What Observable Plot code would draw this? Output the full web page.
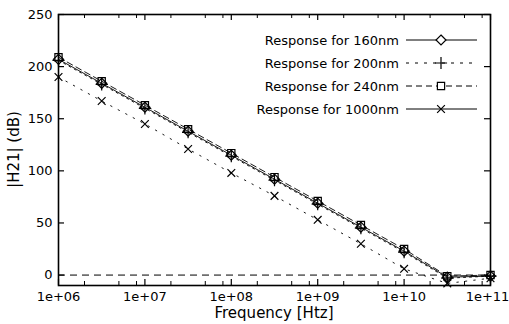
<!DOCTYPE html>
<html><head><meta charset="utf-8">
<script src="https://cdn.jsdelivr.net/npm/d3@7"></script>
<script src="https://cdn.jsdelivr.net/npm/@observablehq/plot@0.6"></script>
<style>body{margin:0;background:#fff}#chart{position:relative;width:509px;height:324px}</style>
</head><body><div id="chart"></div>
<script>
// ---- data ----
const freq = [1e6, 3.162e6, 1e7, 3.162e7, 1e8, 3.162e8, 1e9, 3.162e9, 1e10, 3.162e10, 1e11];
const r160 = [207, 184, 161, 138, 115, 92, 69, 46, 23, -2, -1];
const r200 = [206, 183, 160, 137, 114, 91, 68, 45, 22, -3, -1];
const r240 = [209, 186, 163, 140, 117, 94, 71, 48, 25, -1, 0];
const r1000 = [190, 167, 145, 121, 98, 76, 53, 30, 6, -8, -3];
const seriesNames = ["Response for 160nm", "Response for 200nm", "Response for 240nm", "Response for 1000nm"];
const xTicks = [1e6, 1e7, 1e8, 1e9, 1e10, 1e11];
const xTickLabels = ["1e+06", "1e+07", "1e+08", "1e+09", "1e+10", "1e+11"];
const yTicks = [0, 50, 100, 150, 200, 250];
const zeroLine = [0];
const xTitle = "Frequency [Htz]";
const yTitle = "|H21| (dB)";

// ---- build ----
const seriesVals = [r160, r200, r240, r1000];
const styles = [
  {dash: null, symbol: "diamond2", d3sym: d3.symbolDiamond2, r: 4.5},
  {dash: "2,4", symbol: "plus", d3sym: d3.symbolPlus, r: 4},
  {dash: "6,4", symbol: "square2", d3sym: d3.symbolSquare2, r: 4.6},
  {dash: "1.5,7", symbol: "times", d3sym: d3.symbolX, r: 3.6}
];
const legendDash = [null, "3,6", "6,4", null];
const rows = seriesVals.map((vals, i) => freq.map((f, j) => ({f, v: vals[j], name: seriesNames[i]})));
const minor = xTicks.slice(0, -1).flatMap(d => [2, 5, 8].map(k => d * k));
const fmt = d => xTickLabels[xTicks.indexOf(d)];

const W = 509, H = 324, mL = 58, mR = 19, mT = 14, mB = 39;
const pw = W - mL - mR, ph = H - mT - mB;
const font = "DejaVu Sans";

const marks = [
  Plot.ruleY(zeroLine, {stroke: "black", strokeWidth: 1, strokeDasharray: "7,5"})
];
rows.forEach((data, i) => {
  const s = styles[i];
  marks.push(Plot.line(data, {x: "f", y: "v", stroke: "black", strokeWidth: 0.9, strokeDasharray: s.dash, clip: true}));
});
rows.forEach((data, i) => {
  const s = styles[i];
  marks.push(Plot.dot(data, {x: "f", y: "v", symbol: s.symbol, r: s.r, stroke: "black", fill: "none", strokeWidth: 1.2}));
});
marks.push(
  Plot.tickX(xTicks, {stroke: "black", strokeWidth: 1.2, insetTop: ph - 6}),
  Plot.tickX(xTicks, {stroke: "black", strokeWidth: 1.2, insetBottom: ph - 6}),
  Plot.tickX(minor, {stroke: "black", strokeWidth: 1, insetTop: ph - 4}),
  Plot.tickX(minor, {stroke: "black", strokeWidth: 1, insetBottom: ph - 4}),
  Plot.tickY(yTicks, {stroke: "black", strokeWidth: 1.2, insetRight: pw - 6}),
  Plot.tickY(yTicks, {stroke: "black", strokeWidth: 1.2, insetLeft: pw - 6}),
  Plot.frame({stroke: "black", strokeWidth: 1.6}),
  Plot.axisX(xTicks.slice(0, -1), {tickSize: 0, tickPadding: 6, tickFormat: fmt, label: null}),
  Plot.axisX(xTicks.slice(-1), {tickSize: 0, tickPadding: 6, tickFormat: fmt, label: null, dx: -3}),
  Plot.axisY(yTicks, {tickSize: 0, tickPadding: 6, label: null})
);

const plot = Plot.plot({
  width: W, height: H,
  marginLeft: mL, marginRight: mR, marginTop: mT, marginBottom: mB,
  style: {fontFamily: font, fontSize: "13px", background: "white", color: "black"},
  x: {type: "log", domain: [1e6, 1e11]},
  y: {domain: [-10, 250]},
  marks
});
document.getElementById("chart").appendChild(plot);

// ---- titles and legend ----
const svg = d3.select(plot);
svg.append("text")
  .attr("x", mL + pw / 2).attr("y", 318)
  .attr("text-anchor", "middle")
  .attr("font-family", font).attr("font-size", 15).attr("fill", "black")
  .text(xTitle);
svg.append("text")
  .attr("transform", `translate(19,${mT + ph / 2}) rotate(-90)`)
  .attr("text-anchor", "middle")
  .attr("font-family", font).attr("font-size", 15).attr("fill", "black")
  .text(yTitle);

const lg = svg.append("g").attr("font-family", font).attr("font-size", 13);
const rowY = [40, 63, 86, 109];
seriesNames.forEach((name, i) => {
  const y = rowY[i];
  lg.append("text").attr("x", 399).attr("y", y).attr("dy", "0.35em")
    .attr("text-anchor", "end").attr("fill", "black").text(name);
  lg.append("line").attr("x1", 406).attr("x2", 477).attr("y1", y).attr("y2", y)
    .attr("stroke", "black").attr("stroke-width", 1)
    .attr("stroke-dasharray", legendDash[i]);
  const s = styles[i];
  lg.append("path").attr("transform", `translate(441,${y})`)
    .attr("d", d3.symbol(s.d3sym, Math.PI * s.r * s.r)())
    .attr("fill", "white").attr("stroke", "black").attr("stroke-width", 1.2);
});
</script>
</body></html>
